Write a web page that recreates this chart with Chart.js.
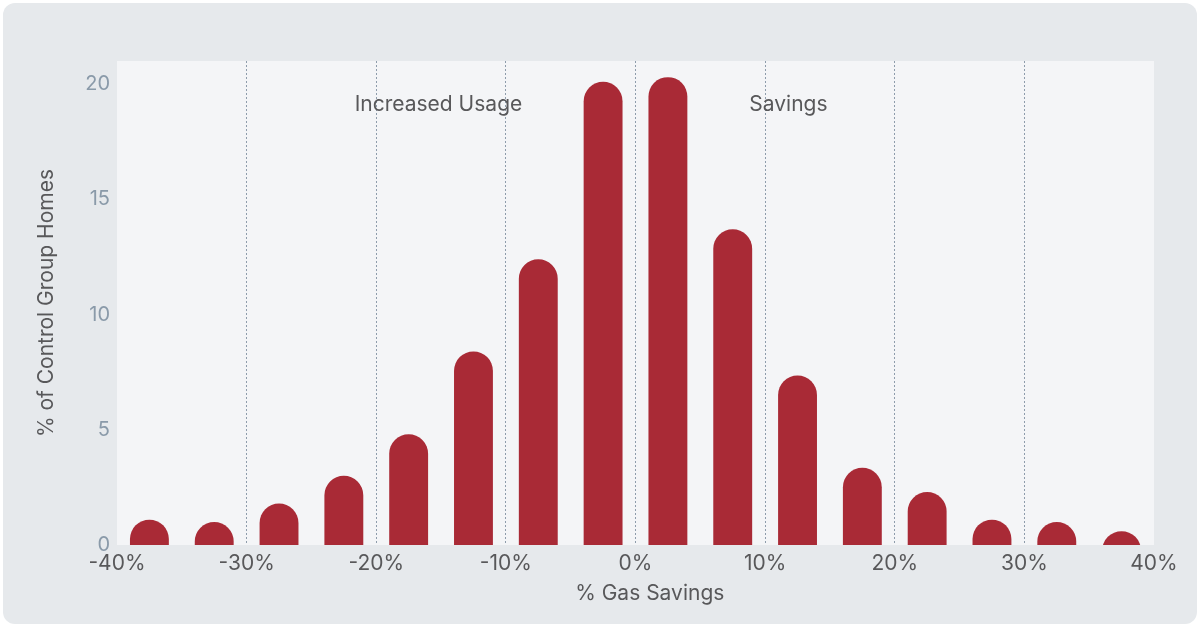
<!DOCTYPE html>
<html>
<head>
<meta charset="utf-8">
<script src="https://cdn.jsdelivr.net/npm/chart.js@4.4.1/dist/chart.umd.min.js"></script>
<style>
    html, body { margin: 0; padding: 0; background: #ffffff; }
    .card {
        position: absolute; left: 3px; top: 3px; width: 1194px; height: 621px;
        background: #e6e9ec; border-radius: 12px;
    }
    .wrap { position: absolute; left: 0; top: 0; width: 1200px; height: 627px; }
</style>
</head>
<body>
<div class="card"></div>
<div class="wrap"><canvas id="savingsChart" width="1200" height="627"></canvas></div>
<script>
// Histogram bins (centre of each 5% bin) and share of control group homes
const binCenters = [-37.5, -32.5, -27.5, -22.5, -17.5, -12.5, -7.5, -2.5, 2.5, 7.5, 12.5, 17.5, 22.5, 27.5, 32.5, 37.5];
const homesPct = [1.1, 1.0, 1.8, 3.0, 4.8, 8.4, 12.4, 20.1, 20.3, 13.7, 7.35, 3.35, 2.3, 1.1, 1.0, 0.6];

const xTicks = [-40, -30, -20, -10, 0, 10, 20, 30, 40];
const yTicks = [0, 5, 10, 15, 20];

// Text labels inside the plot: [text, x value, y value]
const regionLabels = [
    ['Increased Usage', -15.2, 19.1],
    ['Savings', 11.8, 19.1]
];
const xTitle = '% Gas Savings';

const FONT = 'Inter, Roboto, sans-serif';

// Light plot background, region labels and x axis title
const plotDecor = {
    id: 'plotDecor',
    beforeDraw(chart) {
        const { ctx, chartArea } = chart;
        ctx.save();
        ctx.fillStyle = '#f4f5f7';
        ctx.fillRect(chartArea.left, chartArea.top, chartArea.right - chartArea.left, chartArea.bottom - chartArea.top);
        ctx.restore();
    },
    afterDatasetsDraw(chart) {
        const { ctx, scales, chartArea } = chart;
        ctx.save();
        ctx.font = '21px ' + FONT;
        ctx.fillStyle = '#58585a';
        ctx.textAlign = 'center';
        ctx.textBaseline = 'middle';
        regionLabels.forEach(([text, xv, yv]) => {
            ctx.fillText(text, scales.x.getPixelForValue(xv), scales.y.getPixelForValue(yv));
        });
        // axis title sits a little right of the plot centre
        ctx.fillText(xTitle, scales.x.getPixelForValue(1.1), chartArea.bottom + 49);
        ctx.restore();
    }
};

const ctx = document.getElementById('savingsChart');
new Chart(ctx, {
    type: 'bar',
    data: {
        datasets: [{
            data: binCenters.map((x, i) => ({ x: x, y: homesPct[i] })),
            backgroundColor: '#a92a36',
            borderRadius: 20,
            borderSkipped: 'start',
            base: -2,
            clip: 0,
            categoryPercentage: 1,
            barPercentage: 0.6
        }]
    },
    options: {
        responsive: false,
        animation: false,
        layout: { padding: { left: 0, right: 46, top: 61, bottom: 0 } },
        plugins: {
            legend: { display: false },
            tooltip: { enabled: false }
        },
        scales: {
            x: {
                type: 'linear',
                min: -40,
                max: 40,
                offset: false,
                afterFit: (scale) => { scale.height = 82; },
                afterBuildTicks: (scale) => { scale.ticks = xTicks.map(v => ({ value: v })); },
                grid: {
                    offset: false,
                    drawTicks: false,
                    lineWidth: 1,
                    color: (c) => (c.tick && (c.tick.value === -40 || c.tick.value === 40)) ? 'rgba(0,0,0,0)' : '#8e9cab'
                },
                border: { display: false, dash: [2, 2] },
                ticks: {
                    padding: 6,
                    color: '#58585a',
                    font: { family: FONT, size: 21 },
                    maxRotation: 0,
                    callback: (v) => v + '%'
                },
                title: { display: false }
            },
            y: {
                min: 0,
                max: 21,
                afterFit: (scale) => { scale.width = 117; },
                afterBuildTicks: (scale) => { scale.ticks = yTicks.map(v => ({ value: v })); },
                grid: { display: false, drawTicks: false },
                border: { display: false },
                ticks: {
                    padding: 7,
                    color: '#8a9aa9',
                    font: { family: FONT, size: 20 }
                },
                title: {
                    display: true,
                    text: '% of Control Group Homes',
                    color: '#58585a',
                    font: { family: FONT, size: 21 },
                    padding: { top: 34, bottom: 0 }
                }
            }
        }
    },
    plugins: [plotDecor]
});
</script>
</body>
</html>
